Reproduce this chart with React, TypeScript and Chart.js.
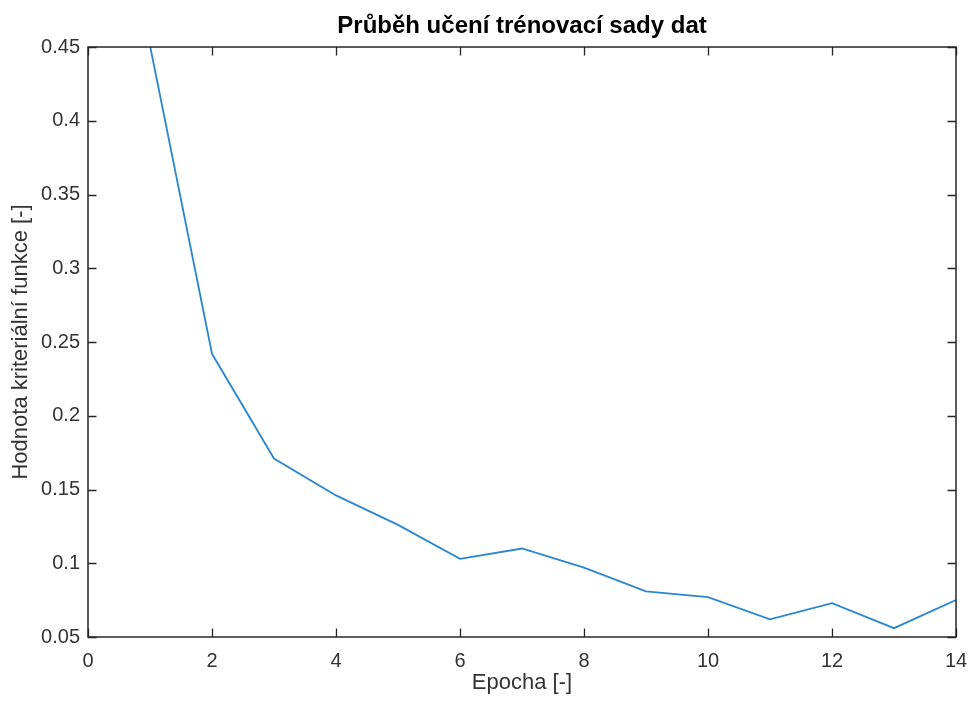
import React, { useEffect, useRef } from "react";
import { Chart, registerables } from "chart.js";

Chart.register(...registerables);

const epochs = [1, 2, 3, 4, 5, 6, 7, 8, 9, 10, 11, 12, 13, 14];
const lossValues = [0.451, 0.242, 0.171, 0.146, 0.126, 0.103, 0.11, 0.097, 0.081, 0.077, 0.062, 0.073, 0.056, 0.075];
const xTicks = [0, 2, 4, 6, 8, 10, 12, 14];
const yTicks = [0.05, 0.1, 0.15, 0.2, 0.25, 0.3, 0.35, 0.4, 0.45];

const titleText = "Průběh učení trénovací sady dat";
const xLabel = "Epocha [-]";
const yLabel = "Hodnota kriteriální funkce [-]";

const AXIS_COLOR = "#262626";
const TICK_COLOR = "#333333";
const FONT = "'Liberation Sans', Arial, Helvetica, sans-serif";

const boxPlugin = {
  id: "matlabBox",
  afterDatasetsDraw(chart: any) {
    const { ctx, chartArea, scales } = chart;
    const { left, right, top, bottom } = chartArea;
    const tl = 8.5;
    ctx.save();
    ctx.strokeStyle = AXIS_COLOR;
    ctx.lineWidth = 1.3;
    ctx.beginPath();
    for (const v of xTicks) {
      const px = Math.round(scales.x.getPixelForValue(v)) + 0.5;
      ctx.moveTo(px, bottom);
      ctx.lineTo(px, bottom - tl);
      ctx.moveTo(px, top);
      ctx.lineTo(px, top + tl);
    }
    for (const v of yTicks) {
      const py = Math.round(scales.y.getPixelForValue(v)) + 0.5;
      ctx.moveTo(left, py);
      ctx.lineTo(left + tl, py);
      ctx.moveTo(right, py);
      ctx.lineTo(right - tl, py);
    }
    ctx.stroke();
    ctx.lineWidth = 1.5;
    ctx.strokeRect(left, top, right - left, bottom - top);
    ctx.restore();
  },
};

export default function App() {
  const canvasRef = useRef<HTMLCanvasElement | null>(null);

  useEffect(() => {
    document.body.style.margin = "0";
    const canvas = canvasRef.current;
    if (!canvas) return;
    const chart = new Chart(canvas, {
      type: "line",
      data: {
        datasets: [
          {
            data: epochs.map((e, i) => ({ x: e, y: lossValues[i] })),
            borderColor: "#2a86d1",
            borderWidth: 1.8,
            pointRadius: 0,
            fill: false,
            tension: 0,
          },
        ],
      },
      options: {
        responsive: false,
        animation: false,
        devicePixelRatio: 1,
        layout: { padding: { left: 0, right: 0, top: 0, bottom: 0 } },
        plugins: {
          legend: { display: false },
          tooltip: { enabled: false },
          title: {
            display: true,
            text: titleText,
            fullSize: false,
            color: "#000000",
            font: { family: FONT, size: 24, weight: "bold" },
            padding: { top: 12, bottom: 6.2 },
          },
        },
        scales: {
          x: {
            type: "linear",
            min: 0,
            max: 14,
            afterBuildTicks(scale: any) {
              scale.ticks = xTicks.map((v) => ({ value: v }));
            },
            afterFit(scale: any) {
              scale.height = 65;
              scale.paddingRight = 12;
              scale.paddingLeft = 0;
            },
            grid: { display: false, drawTicks: false },
            border: { display: false },
            ticks: {
              color: TICK_COLOR,
              font: { family: FONT, size: 20 },
              padding: 12,
              maxRotation: 0,
              callback: (v: any) => String(v),
            },
            title: {
              display: true,
              text: xLabel,
              color: TICK_COLOR,
              font: { family: FONT, size: 22 },
              padding: { top: 0, bottom: 6 },
            },
          },
          y: {
            type: "linear",
            min: 0.05,
            max: 0.45,
            afterBuildTicks(scale: any) {
              scale.ticks = yTicks.map((v) => ({ value: v }));
            },
            afterFit(scale: any) {
              scale.width = 88;
            },
            grid: { display: false, drawTicks: false },
            border: { display: false },
            ticks: {
              color: TICK_COLOR,
              font: { family: FONT, size: 20 },
              padding: 8,
              callback: (v: any) => String(Number(Number(v).toFixed(2))),
            },
            title: {
              display: true,
              text: yLabel,
              color: TICK_COLOR,
              font: { family: FONT, size: 22 },
              padding: { top: 8, bottom: 0 },
            },
          },
        },
      },
      plugins: [boxPlugin],
    } as any);
    return () => chart.destroy();
  }, []);

  return (
    <div style={{ width: 968, height: 702, background: "#ffffff" }}>
      <canvas ref={canvasRef} width={968} height={702} style={{ display: "block" }} />
    </div>
  );
}
